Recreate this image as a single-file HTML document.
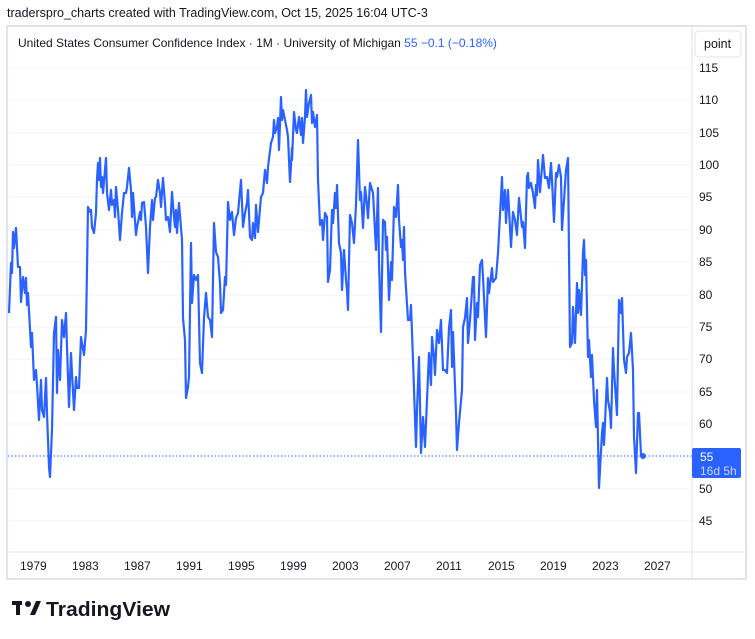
<!DOCTYPE html>
<html><head><meta charset="utf-8"><style>
body{margin:0;width:755px;height:639px;background:#fff;font-family:"Liberation Sans",sans-serif;position:relative;overflow:hidden}
</style></head><body>
<svg width="755" height="639" style="position:absolute;left:0;top:0">
<text x="7" y="17" font-family="Liberation Sans, sans-serif" font-size="12.5" fill="#131722">traderspro_charts created with TradingView.com, Oct 15, 2025 16:04 UTC-3</text>
<rect x="7" y="26" width="739" height="553" fill="none" stroke="#e0e3eb" stroke-width="2"/>
<line x1="692" y1="26" x2="692" y2="579" stroke="#e0e3eb"/>
<line x1="8" y1="552" x2="746" y2="552" stroke="#e0e3eb"/>
<g stroke="#f0f3fa" stroke-width="1">
<line x1="8" y1="68" x2="692" y2="68"/><line x1="8" y1="100" x2="692" y2="100"/><line x1="8" y1="133" x2="692" y2="133"/><line x1="8" y1="165" x2="692" y2="165"/><line x1="8" y1="197" x2="692" y2="197"/><line x1="8" y1="230" x2="692" y2="230"/><line x1="8" y1="262" x2="692" y2="262"/><line x1="8" y1="295" x2="692" y2="295"/><line x1="8" y1="327" x2="692" y2="327"/><line x1="8" y1="359" x2="692" y2="359"/><line x1="8" y1="392" x2="692" y2="392"/><line x1="8" y1="424" x2="692" y2="424"/><line x1="8" y1="489" x2="692" y2="489"/><line x1="8" y1="521" x2="692" y2="521"/>
</g>
<line x1="8" y1="456" x2="692" y2="456" stroke="#2962ff" stroke-dasharray="1.5,2"/>
<polyline fill="none" stroke="#2962ff" stroke-width="2.2" stroke-linejoin="round" points="9,313 11,263 12,273 13,232 14,248 16,228 17,247 18,267 20,267 21,302 23,277 25,293 26,278 27,305 28,293 31,347 32,333 34,380 36,370 37,385 39,420 41,380 42,410 44,417 46,378 47,413 49,467 50,477 52,430 54,333 56,317 57,393 58,350 60,380 62,320 64,337 66,313 67,347 69,407 71,353 72,373 74,410 76,377 77,388 79,388 81,337 82,343 84,355 86,330 88,207 90,212 91,210 92,227 94,233 96,213 97,180 98,163 99,180 100,158 101,187 102,177 103,193 106,158 107,193 109,210 111,190 112,205 114,200 115,217 116,187 118,210 120,240 122,213 124,193 126,193 127,187 129,168 131,190 132,217 133,193 136,235 137,227 140,212 141,220 142,203 144,202 146,227 148,273 150,227 152,200 153,220 155,198 156,197 158,180 160,193 161,207 163,178 165,203 166,220 168,217 170,232 172,192 174,217 175,227 176,210 177,233 179,203 182,240 183,318 185,340 186,398 188,387 189,377 191,243 192,303 194,275 196,280 198,275 200,363 202,373 204,318 206,293 208,317 210,320 212,337 214,223 216,252 218,257 220,283 221,313 223,310 225,277 226,285 228,202 230,220 232,212 234,235 236,218 238,213 241,180 243,227 245,213 247,203 248,190 250,237 252,240 253,223 255,238 256,205 258,232 261,197 263,193 265,170 267,183 268,167 271,143 273,137 274,120 275,133 277,127 278,118 279,150 281,97 282,120 283,110 287,130 288,137 290,182 292,148 292,160 294,112 296,130 297,133 299,117 301,135 302,118 303,143 305,117 306,90 307,117 309,103 311,95 312,123 313,112 315,127 317,115 318,180 320,225 322,220 323,240 325,213 327,217 328,282 330,270 332,210 333,223 335,193 336,208 337,185 339,243 341,253 342,290 344,250 346,280 347,290 348,310 350,215 352,223 354,243 356,205 358,140 360,200 361,192 363,228 365,187 366,195 368,218 370,183 373,193 376,250 378,188 379,263 381,332 383,220 385,222 386,250 387,237 389,300 391,262 392,280 394,207 396,217 398,185 399,220 401,247 402,240 403,260 404,227 405,272 408,320 410,320 411,305 413,360 416,447 417,410 419,357 421,453 423,417 425,447 429,353 431,385 432,337 434,357 435,375 437,330 439,343 441,320 443,370 445,370 447,373 449,328 451,310 452,367 453,332 456,413 457,450 459,423 462,390 463,327 465,318 467,298 468,343 470,320 473,277 474,277 475,340 477,303 478,317 480,265 482,260 483,277 486,337 488,278 489,293 492,268 493,282 496,278 498,253 502,177 503,210 505,190 506,223 508,190 511,247 513,212 515,220 517,235 519,198 522,227 523,222 525,248 527,177 528,173 529,188 531,183 533,193 535,208 536,185 537,195 538,160 540,192 543,155 545,178 547,177 549,188 551,163 552,180 554,222 556,173 557,177 559,165 561,177 562,230 564,200 566,170 568,158 570,347 572,343 573,307 575,343 577,283 578,313 579,290 581,315 583,253 584,240 585,275 586,260 588,357 589,340 591,377 592,355 594,400 596,427 597,390 599,488 602,433 603,423 604,445 607,378 608,400 610,412 611,428 613,348 614,370 617,415 619,300 621,313 622,298 624,360 626,373 627,357 629,353 631,333 633,370 634,437 636,473 638,413 639,413 641,455 643,456"/>
<circle cx="643" cy="456" r="3" fill="#2962ff"/>
<rect x="695" y="31" width="46" height="26" rx="4" fill="#fff" stroke="#e0e3eb"/>
<rect x="692" y="448" width="49" height="30" rx="2" fill="#2962ff"/>
<g font-family="Liberation Sans, sans-serif" font-size="12" fill="#131722">
<text x="704" y="48" font-size="12.5">point</text>
<text x="699" y="72">115</text><text x="699" y="104">110</text><text x="699" y="137">105</text><text x="699" y="169">100</text><text x="699" y="201">95</text><text x="699" y="234">90</text><text x="699" y="266">85</text><text x="699" y="299">80</text><text x="699" y="331">75</text><text x="699" y="363">70</text><text x="699" y="396">65</text><text x="699" y="428">60</text><text x="699" y="493">50</text><text x="699" y="525">45</text>
<text x="20" y="570">1979</text><text x="72" y="570">1983</text><text x="124" y="570">1987</text><text x="176" y="570">1991</text><text x="228" y="570">1995</text><text x="280" y="570">1999</text><text x="332" y="570">2003</text><text x="384" y="570">2007</text><text x="436" y="570">2011</text><text x="488" y="570">2015</text><text x="540" y="570">2019</text><text x="592" y="570">2023</text><text x="644" y="570">2027</text>
<text x="700" y="461" fill="#fff">55</text><text x="700" y="475" fill="#c8d6ff">16d 5h</text>
<text x="18" y="47" font-size="12">United States Consumer Confidence Index · 1M · University of Michigan <tspan fill="#2962ff"> 55  −0.1 (−0.18%)</tspan></text>
</g>
<g fill="#131722">
<rect x="12" y="601" width="10" height="4"/><rect x="16" y="601" width="4" height="14"/>
<circle cx="28" cy="604" r="3"/><path d="M30 615 L36 601 L41 601 L35 615 Z"/>
<text x="46" y="616" font-family="Liberation Sans, sans-serif" font-size="20" font-weight="bold" textLength="124" lengthAdjust="spacingAndGlyphs">TradingView</text>
</g>
</svg>
</body></html>
